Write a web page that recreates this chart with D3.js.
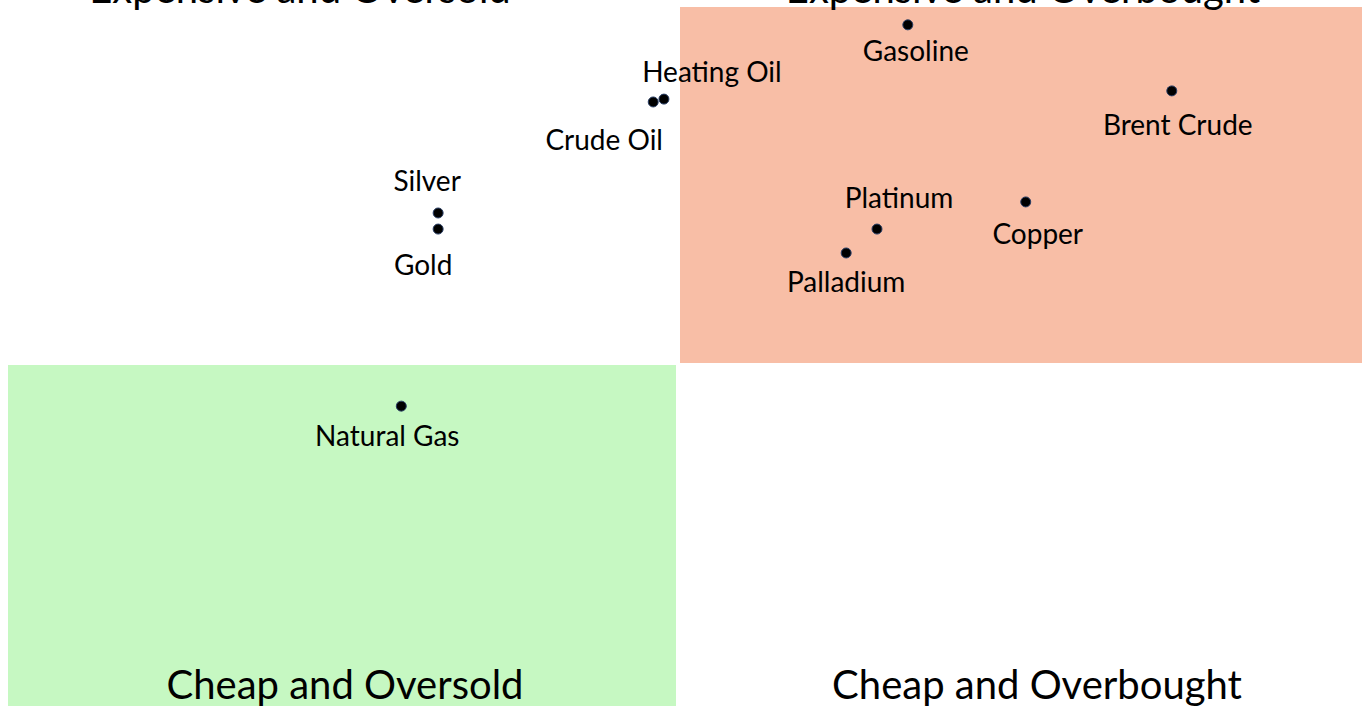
<!DOCTYPE html>
<html>
<head>
<meta charset="utf-8">
<script src="https://cdn.jsdelivr.net/npm/d3@7"></script>
<style>
  html, body { margin: 0; padding: 0; background: #ffffff; overflow: hidden; }
  svg { display: block; }
  text { font-family: Lato, "Open Sans", sans-serif; fill: #000; }
</style>
</head>
<body>
<svg id="chart" width="1362" height="706"></svg>
<script>
// Commodities: valuation (x: oversold <-> overbought) vs (y: cheap <-> expensive)
const commodities = ["Gasoline", "Heating Oil", "Crude Oil", "Brent Crude", "Silver",
                     "Gold", "Platinum", "Copper", "Palladium", "Natural Gas"];
const momentum  = [34.3, -2.1, -3.7, 73.7, -35.8, -35.8, 29.7, 51.9, 25.1, -41.3];
const valuation = [95.0, 74.2, 73.4, 76.5, 42.3, 37.8, 37.8, 45.4, 31.1, -11.8];

// Quadrant captions, keyed by sign of (x, y)
const quadrantNames = ["Expensive and Oversold", "Expensive and Overbought",
                       "Cheap and Oversold", "Cheap and Overbought"];
const quadrantSigns = [[-1, 1], [1, 1], [-1, -1], [1, -1]];

const svg = d3.select("#chart");
const W = 1362, H = 706;

const x = d3.scaleLinear().domain([-100, 100]).range([8, 1348]);
const y = d3.scaleLinear().domain([-100, 100]).range([721, 7]);

// Shaded quadrants
const gap = 2;
svg.append("rect")
  .attr("x", x(0) + gap).attr("y", y(100))
  .attr("width", W - (x(0) + gap)).attr("height", y(0) - 1 - y(100))
  .attr("fill", "#F8BEA6");
svg.append("rect")
  .attr("x", x(-100)).attr("y", y(0) + 1)
  .attr("width", x(0) - gap - x(-100)).attr("height", H - (y(0) + 1))
  .attr("fill", "#C6F8C2");

// Quadrant captions (top pair sit at the upper edge, bottom pair at the lower edge)
const captionPos = {
  "Expensive and Oversold":   { cx: 300,  by: 3 },
  "Expensive and Overbought": { cx: 1023, by: 3 },
  "Cheap and Oversold":       { cx: 345,  by: 699 },
  "Cheap and Overbought":     { cx: 1037, by: 699 }
};
svg.append("g").selectAll("text")
  .data(quadrantNames)
  .join("text")
  .attr("x", d => captionPos[d].cx)
  .attr("y", d => captionPos[d].by)
  .attr("text-anchor", "middle")
  .attr("font-size", 40)
  .text(d => d);

// Points
const pts = commodities.map((name, i) => ({ name, mx: momentum[i], vy: valuation[i] }));

// Label offsets from each point (dx to text centre, dy to baseline)
const labelOffset = {
  "Gasoline":    [8, 36],
  "Heating Oil": [48, -17],
  "Crude Oil":   [-49, 48],
  "Brent Crude": [6, 44],
  "Silver":      [-11, -22],
  "Gold":        [-15, 46],
  "Platinum":    [22, -21],
  "Copper":      [12, 42],
  "Palladium":   [0, 39],
  "Natural Gas": [-14, 40]
};

svg.append("g").selectAll("circle")
  .data(pts)
  .join("circle")
  .attr("cx", d => x(d.mx))
  .attr("cy", d => y(d.vy))
  .attr("r", 5)
  .attr("fill", "#000")
  .attr("stroke", "#2a3f66")
  .attr("stroke-width", 1);

svg.append("g").selectAll("text")
  .data(pts)
  .join("text")
  .attr("x", d => x(d.mx) + labelOffset[d.name][0])
  .attr("y", d => y(d.vy) + labelOffset[d.name][1])
  .attr("text-anchor", "middle")
  .attr("font-size", 28)
  .text(d => d.name);
</script>
</body>
</html>
